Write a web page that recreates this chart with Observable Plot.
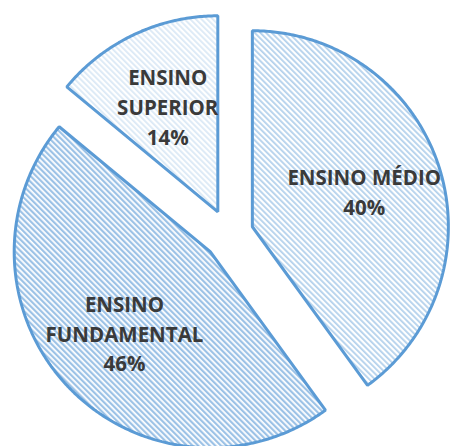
<!DOCTYPE html>
<html>
<head>
<meta charset="utf-8">
<script src="https://cdn.jsdelivr.net/npm/d3@7"></script>
<script src="https://cdn.jsdelivr.net/npm/@observablehq/plot@0.6"></script>
<style>
  html, body { margin: 0; padding: 0; background: #ffffff; }
  #chart svg { display: block; }
</style>
</head>
<body>
<div id="chart"></div>
<script>
// ---- data ----
const categories = ["ENSINO MÉDIO", "ENSINO FUNDAMENTAL", "ENSINO SUPERIOR"];
const labelLines = ["ENSINO MÉDIO", "ENSINO\nFUNDAMENTAL", "ENSINO\nSUPERIOR"];
const values = [40, 46, 14];

// ---- geometry built from the data ----
const explode = 0.128;          // slice offset, in radius units
const labelRadius = 0.6;        // label distance from the slice apex
const pie = d3.pie().sort(null).value(d => d)(values);

const outline = [];
const labels = [];
pie.forEach((s, i) => {
  const cat = categories[i];
  const mid = (s.startAngle + s.endAngle) / 2;
  const ox = explode * Math.sin(mid), oy = explode * Math.cos(mid);
  outline.push({cat, x: ox, y: oy});
  const n = Math.max(8, Math.ceil((s.endAngle - s.startAngle) / 0.01));
  for (let k = 0; k <= n; k++) {
    const a = s.startAngle + (s.endAngle - s.startAngle) * k / n;
    outline.push({cat, x: ox + Math.sin(a), y: oy + Math.cos(a)});
  }
  labels.push({
    cat,
    text: labelLines[i] + "\n" + values[i] + "%",
    x: ox + labelRadius * Math.sin(mid),
    y: oy + labelRadius * Math.cos(mid)
  });
});

const W = 451, H = 446, R = 196, CX = 228, CY = 234;

const chart = Plot.plot({
  width: W,
  height: H,
  margin: 0,
  x: {domain: [-CX / R, (W - CX) / R], range: [0, W], axis: null},
  y: {domain: [-(H - CY) / R, CY / R], range: [H, 0], axis: null},
  color: {type: "ordinal", domain: categories, range: ["url(#pat-medio)", "url(#pat-fund)", "url(#pat-sup)"]},
  marks: [
    Plot.line(outline, {
      x: "x", y: "y", z: "cat", fill: "cat",
      curve: "linear-closed",
      stroke: "#5b9bd5", strokeWidth: 3, strokeLinejoin: "miter"
    }),
    Plot.text(labels, {
      x: "x", y: "y", text: "text",
      fill: "#3a3a3a",
      fontFamily: "Open Sans",
      fontWeight: "bold",
      fontSize: 20.5,
      lineHeight: 1.45,
      lineAnchor: "middle",
      textAnchor: "middle"
    })
  ]
});

// hatch patterns
const svg = d3.select(chart);
const defs = svg.insert("defs", ":first-child");
function hatch(id, color, stripe) {
  const p = defs.append("pattern")
    .attr("id", id)
    .attr("patternUnits", "userSpaceOnUse")
    .attr("width", 4).attr("height", 4)
    .attr("patternTransform", "rotate(-45)");
  p.append("rect").attr("width", 4).attr("height", 4).attr("fill", "#ffffff");
  p.append("rect").attr("width", stripe).attr("height", 4).attr("fill", color);
}
hatch("pat-medio", "#b4d1ec", 1.8);
hatch("pat-fund", "#9cc2e6", 2.2);
hatch("pat-sup", "#dbe9f6", 1.8);

document.getElementById("chart").appendChild(chart);
</script>
</body>
</html>
